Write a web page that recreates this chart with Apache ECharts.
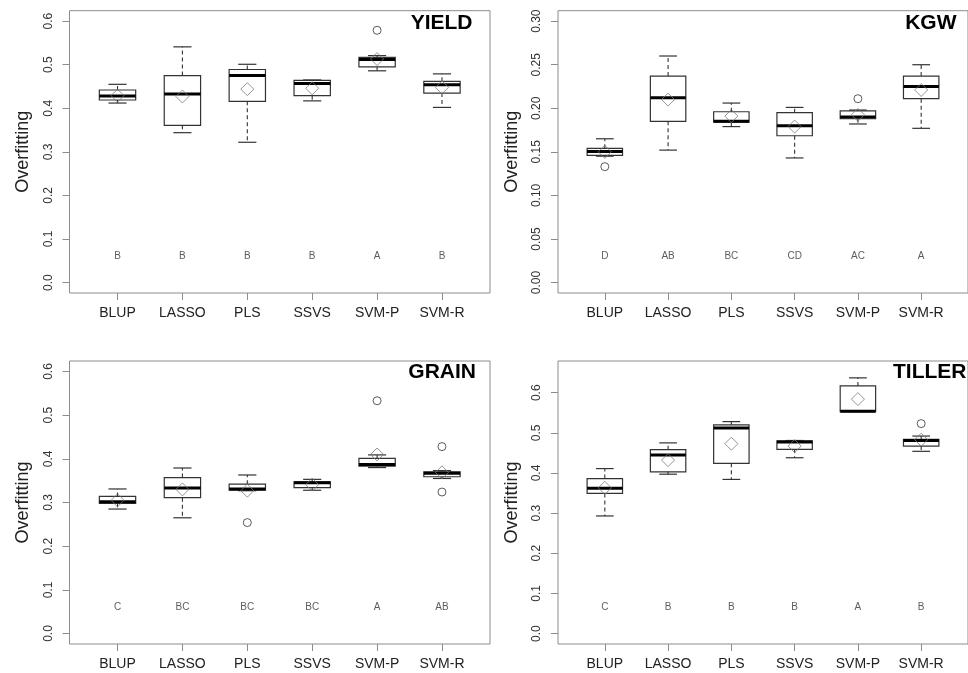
<!DOCTYPE html>
<html>
<head>
<meta charset="utf-8">
<script src="https://cdn.jsdelivr.net/npm/echarts@6/dist/echarts.min.js"></script>
<style>html,body{margin:0;padding:0;background:#fff;}#c{width:968px;height:673px;}</style>
</head>
<body>
<div id="c"></div>
<script>
const categories = ['BLUP', 'LASSO', 'PLS', 'SSVS', 'SVM-P', 'SVM-R'];

// [lower whisker, Q1, median, Q3, upper whisker]
const yieldStats = [
  [0.412, 0.419, 0.428, 0.442, 0.455],
  [0.344, 0.361, 0.433, 0.475, 0.541],
  [0.322, 0.416, 0.475, 0.489, 0.501],
  [0.417, 0.429, 0.457, 0.464, 0.465],
  [0.486, 0.495, 0.512, 0.517, 0.521],
  [0.402, 0.435, 0.454, 0.462, 0.479]
];
const yieldMeans = [0.429, 0.427, 0.444, 0.446, 0.513, 0.448];
const yieldOutliers = [['SVM-P', 0.579]];
const yieldLetters = ['B', 'B', 'B', 'B', 'A', 'B'];

const kgwStats = [
  [0.145, 0.146, 0.1505, 0.154, 0.165],
  [0.152, 0.185, 0.212, 0.237, 0.260],
  [0.179, 0.184, 0.185, 0.196, 0.206],
  [0.143, 0.1685, 0.180, 0.195, 0.201],
  [0.182, 0.188, 0.190, 0.197, 0.198],
  [0.177, 0.211, 0.225, 0.237, 0.250]
];
const kgwMeans = [0.150, 0.210, 0.191, 0.179, 0.1925, 0.221];
const kgwOutliers = [['BLUP', 0.133], ['SVM-P', 0.211]];
const kgwLetters = ['D', 'AB', 'BC', 'CD', 'AC', 'A'];

const grainStats = [
  [0.285, 0.298, 0.302, 0.314, 0.331],
  [0.265, 0.311, 0.333, 0.357, 0.379],
  [0.327, 0.328, 0.331, 0.342, 0.363],
  [0.328, 0.334, 0.345, 0.347, 0.353],
  [0.380, 0.383, 0.387, 0.401, 0.409],
  [0.355, 0.359, 0.367, 0.370, 0.373]
];
const grainMeans = [0.305, 0.330, 0.327, 0.341, 0.410, 0.369];
const grainOutliers = [['PLS', 0.254], ['SVM-P', 0.533], ['SVM-R', 0.428], ['SVM-R', 0.324]];
const grainLetters = ['C', 'BC', 'BC', 'BC', 'A', 'AB'];

const tillerStats = [
  [0.293, 0.349, 0.362, 0.386, 0.411],
  [0.397, 0.403, 0.445, 0.458, 0.475],
  [0.384, 0.424, 0.512, 0.520, 0.528],
  [0.438, 0.459, 0.477, 0.480, 0.481],
  [0.553, 0.553, 0.554, 0.617, 0.637],
  [0.454, 0.467, 0.481, 0.484, 0.492]
];
const tillerMeans = [0.363, 0.432, 0.473, 0.467, 0.584, 0.483];
const tillerOutliers = [['SVM-R', 0.523]];
const tillerLetters = ['C', 'B', 'B', 'B', 'A', 'B'];

const ticksTenth = [0, 0.1, 0.2, 0.3, 0.4, 0.5, 0.6];
const ticksKgw = [0, 0.05, 0.10, 0.15, 0.20, 0.25, 0.30];

const panels = [
  {title: 'YIELD', stats: yieldStats, means: yieldMeans, outliers: yieldOutliers, letters: yieldLetters, letterY: 0.06, yMin: -0.024, yMax: 0.624, ticks: ticksTenth, dec: 1},
  {title: 'KGW', stats: kgwStats, means: kgwMeans, outliers: kgwOutliers, letters: kgwLetters, letterY: 0.03, yMin: -0.012, yMax: 0.312, ticks: ticksKgw, dec: 2},
  {title: 'GRAIN', stats: grainStats, means: grainMeans, outliers: grainOutliers, letters: grainLetters, letterY: 0.06, yMin: -0.024, yMax: 0.624, ticks: ticksTenth, dec: 1},
  {title: 'TILLER', stats: tillerStats, means: tillerMeans, outliers: tillerOutliers, letters: tillerLetters, letterY: 0.065, yMin: -0.026, yMax: 0.679, ticks: ticksTenth, dec: 1}
];

// layout
const grids = [
  {left: 69.5, top: 10.7, width: 420.5, height: 282.3},
  {left: 558, top: 10.7, width: 421.4, height: 282.3},
  {left: 69.5, top: 361, width: 420.5, height: 283},
  {left: 558, top: 361, width: 421.4, height: 283}
];
const titlePos = [
  {right: 495.5, top: 13},
  {right: 11.5, top: 13},
  {right: 492, top: 362},
  {left: 893, top: 362}
];

const FONT = 'Liberation Sans, Arial, sans-serif';
const catPos = categories.map((c, i) => i + 1);
const BOX_HALF = 0.28, CAP_HALF = 0.14;

function renderBox(params, api) {
  const x = api.value(0);
  const lo = api.value(1), q1 = api.value(2), md = api.value(3), q3 = api.value(4), hi = api.value(5);
  const pTL = api.coord([x - BOX_HALF, q3]);
  const pBR = api.coord([x + BOX_HALF, q1]);
  const pc = v => api.coord([x, v]);
  const pHi = pc(hi), pLo = pc(lo), pQ1 = pc(q1), pQ3 = pc(q3), pMd = pc(md);
  const capL = api.coord([x - CAP_HALF, hi])[0], capR = api.coord([x + CAP_HALF, hi])[0];
  const st = {stroke: '#333', lineWidth: 1.2, fill: 'none'};
  const dash = {stroke: '#333', lineWidth: 1.1, lineDash: [4, 3]};
  return {
    type: 'group',
    children: [
      {type: 'line', shape: {x1: pQ3[0], y1: pQ3[1], x2: pHi[0], y2: pHi[1]}, style: dash},
      {type: 'line', shape: {x1: pQ1[0], y1: pQ1[1], x2: pLo[0], y2: pLo[1]}, style: dash},
      {type: 'line', shape: {x1: capL, y1: pHi[1], x2: capR, y2: pHi[1]}, style: {stroke: '#333', lineWidth: 1.2}},
      {type: 'line', shape: {x1: capL, y1: pLo[1], x2: capR, y2: pLo[1]}, style: {stroke: '#333', lineWidth: 1.2}},
      {type: 'rect', shape: {x: pTL[0], y: pTL[1], width: pBR[0] - pTL[0], height: Math.max(pBR[1] - pTL[1], 0.5)}, style: st},
      {type: 'line', shape: {x1: pTL[0], y1: pMd[1], x2: pBR[0], y2: pMd[1]}, style: {stroke: '#000', lineWidth: 3}}
    ]
  };
}

const option = {
  backgroundColor: '#fff',
  animation: false,
  grid: grids.map(g => Object.assign({show: true, borderColor: '#8c8c8c', borderWidth: 1, backgroundColor: 'transparent', containLabel: false}, g)),
  title: panels.map((p, i) => Object.assign({
    text: p.title, padding: 0,
    textStyle: {fontFamily: FONT, fontSize: 21, fontWeight: 'bold', color: '#000'}
  }, titlePos[i])),
  xAxis: panels.map((p, i) => ({
    type: 'value', gridIndex: i, min: 0.26, max: 6.74, position: 'bottom',
    splitLine: {show: false},
    axisLine: {show: false, onZero: false},
    axisTick: {show: true, length: 7, lineStyle: {color: '#8c8c8c'}, customValues: catPos},
    axisLabel: {show: true, customValues: catPos, margin: 13, fontFamily: FONT, fontSize: 14, color: '#222',
      formatter: v => categories[Math.round(v) - 1] || ''}
  })),
  yAxis: panels.map((p, i) => ({
    type: 'value', gridIndex: i, min: p.yMin, max: p.yMax, position: 'left',
    name: 'Overfitting', nameLocation: 'middle', nameRotate: 90, nameGap: 37,
    nameTextStyle: {fontFamily: FONT, fontSize: 18, color: '#222'},
    splitLine: {show: false},
    axisLine: {show: false, onZero: false},
    axisTick: {show: true, length: 7, lineStyle: {color: '#8c8c8c'}, customValues: p.ticks},
    axisLabel: {show: true, customValues: p.ticks, rotate: 90, margin: 15, fontFamily: FONT, fontSize: 12, color: '#333',
      formatter: v => Number(v).toFixed(p.dec)}
  })),
  series: []
};

panels.forEach((p, i) => {
  option.series.push({
    type: 'custom', xAxisIndex: i, yAxisIndex: i, renderItem: renderBox, clip: false, z: 2,
    encode: {x: 0, y: [1, 2, 3, 4, 5]},
    data: p.stats.map((s, k) => [k + 1].concat(s))
  });
  option.series.push({
    type: 'scatter', xAxisIndex: i, yAxisIndex: i, symbol: 'diamond', symbolSize: [13, 13], z: 3,
    itemStyle: {color: 'none', borderColor: '#7a7a7a', borderWidth: 1},
    emphasis: {disabled: true},
    data: p.means.map((m, k) => [k + 1, m])
  });
  option.series.push({
    type: 'scatter', xAxisIndex: i, yAxisIndex: i, symbol: 'circle', symbolSize: 8, z: 3,
    itemStyle: {color: 'none', borderColor: '#333', borderWidth: 1},
    emphasis: {disabled: true},
    data: p.outliers.map(o => [categories.indexOf(o[0]) + 1, o[1]])
  });
  option.series.push({
    type: 'scatter', xAxisIndex: i, yAxisIndex: i, symbolSize: 0, z: 3,
    label: {show: true, position: 'inside', formatter: d => p.letters[d.dataIndex], fontFamily: FONT, fontSize: 10, color: '#333'},
    emphasis: {disabled: true},
    data: p.letters.map((l, k) => [k + 1, p.letterY])
  });
});

const chart = echarts.init(document.getElementById('c'), null, {renderer: 'canvas'});
chart.setOption(option);
</script>
</body>
</html>
